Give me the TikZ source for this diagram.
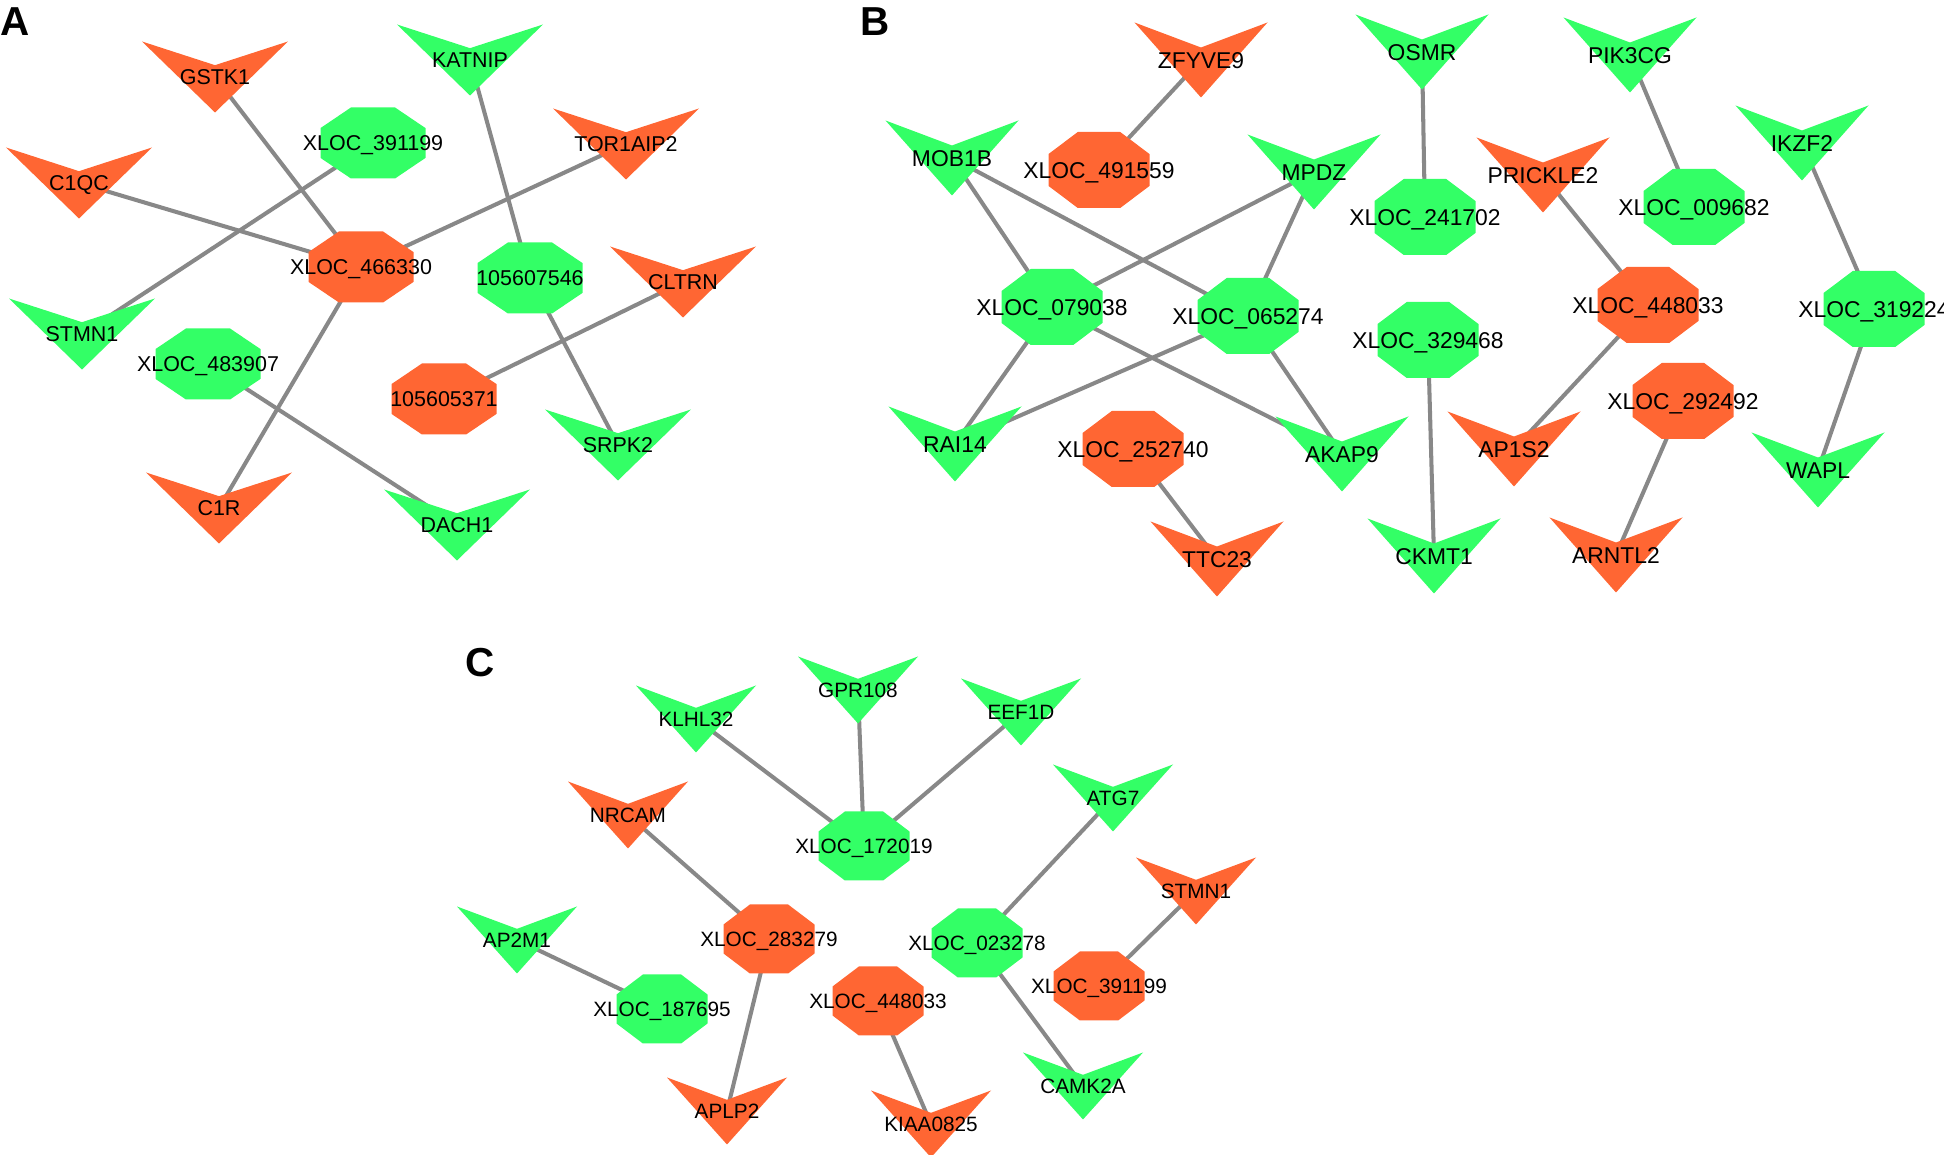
\documentclass[tikz,border=0pt]{standalone}
\usepackage{fontspec}
\setmainfont{Liberation Sans}
\usetikzlibrary{backgrounds}
\definecolor{upcol}{HTML}{FF6633}
\definecolor{downcol}{HTML}{33FF66}
\definecolor{edgecol}{HTML}{888888}

\tikzset{
  upreg/.style={fill=upcol},
  downreg/.style={fill=downcol},
  gene/.style={inner sep=0pt, text depth=0pt},
  link/.style={draw=edgecol, line width=1.15pt},
  panel/.style={anchor=base west, inner sep=0pt, font=\bfseries\fontsize{11.5}{12}\selectfont}
}

% V shaped node: style, name, position, label
\newcommand{\veenode}[4]{%
  \fill[#1, shift={(#3)}] (-\vw/2,-\vh/2) -- (0,-\vh/6) -- (\vw/2,-\vh/2) -- (0,\vh/2) -- cycle;
  \node[gene] (#2) at (#3) {#4};
}
% octagon node: style, name, position, label
\newcommand{\octnode}[4]{%
  \fill[#1, shift={(#3)}] (-.21*\ow,-\oh/2) -- (.21*\ow,-\oh/2) -- (\ow/2,-.21*\oh) -- (\ow/2,.21*\oh)
    -- (.21*\ow,\oh/2) -- (-.21*\ow,\oh/2) -- (-\ow/2,.21*\oh) -- (-\ow/2,-.21*\oh) -- cycle;
  \node[gene] (#2) at (#3) {#4};
}

\begin{document}
\begin{tikzpicture}[x=0.01cm, y=-0.01cm]
\useasboundingbox (0,0) rectangle (1944,1155);

% panel A
\begin{scope}[gene/.append style={font=\fontsize{6.1}{7}\selectfont, text height=4.4pt}]
  \def\vw{146}\def\vh{71}\def\ow{105}\def\oh{71}
  \node[panel] (labA) at (0,36) {A};
  \veenode{upreg}{gstk1}{215,77}{GSTK1}
  \veenode{downreg}{katnip}{470,60}{KATNIP}
  \octnode{downreg}{xA391199}{373,143}{XLOC\_391199}
  \veenode{upreg}{tor1aip2}{626,144}{TOR1AIP2}
  \veenode{upreg}{c1qc}{79,183}{C1QC}
  \octnode{upreg}{xA466330}{361,267}{XLOC\_466330}
  \octnode{downreg}{n105607546}{530,278}{105607546}
  \veenode{upreg}{cltrn}{683,282}{CLTRN}
  \veenode{downreg}{stmn1}{82,334}{STMN1}
  \octnode{downreg}{xA483907}{208,364}{XLOC\_483907}
  \octnode{upreg}{n105605371}{444,399}{105605371}
  \veenode{downreg}{srpk2}{618,445}{SRPK2}
  \veenode{upreg}{c1r}{219,508}{C1R}
  \veenode{downreg}{dach1}{457,525}{DACH1}
\end{scope}

% panel B
\begin{scope}[gene/.append style={font=\fontsize{6.5}{7}\selectfont, text height=4.7pt}]
  \def\vw{133}\def\vh{75}\def\ow{101}\def\oh{76}
  \node[panel] (labB) at (860,36) {B};
  \veenode{upreg}{zfyve9}{1201,60}{ZFYVE9}
  \veenode{downreg}{osmr}{1422,52}{OSMR}
  \veenode{downreg}{pik3cg}{1630,55}{PIK3CG}
  \veenode{downreg}{mob1b}{952,158}{MOB1B}
  \octnode{upreg}{xB491559}{1099,170}{XLOC\_491559}
  \veenode{downreg}{mpdz}{1314,172}{MPDZ}
  \veenode{upreg}{prickle2}{1543,175}{PRICKLE2}
  \veenode{downreg}{ikzf2}{1802,143}{IKZF2}
  \octnode{downreg}{xB241702}{1425,217}{XLOC\_241702}
  \octnode{downreg}{xB009682}{1694,207}{XLOC\_009682}
  \octnode{downreg}{xB079038}{1052,307}{XLOC\_079038}
  \octnode{downreg}{xB065274}{1248,316}{XLOC\_065274}
  \octnode{downreg}{xB329468}{1428,340}{XLOC\_329468}
  \octnode{upreg}{xB448033}{1648,305}{XLOC\_448033}
  \octnode{downreg}{xB319224}{1874,309}{XLOC\_319224}
  \octnode{upreg}{xB292492}{1683,401}{XLOC\_292492}
  \veenode{downreg}{rai14}{955,444}{RAI14}
  \octnode{upreg}{xB252740}{1133,449}{XLOC\_252740}
  \veenode{downreg}{akap9}{1342,454}{AKAP9}
  \veenode{upreg}{ap1s2}{1514,449}{AP1S2}
  \veenode{downreg}{wapl}{1818,470}{WAPL}
  \veenode{upreg}{ttc23}{1217,559}{TTC23}
  \veenode{downreg}{ckmt1}{1434,556}{CKMT1}
  \veenode{upreg}{arntl2}{1616,555}{ARNTL2}
\end{scope}

% panel C
\begin{scope}[gene/.append style={font=\fontsize{5.9}{7}\selectfont, text height=4.25pt}]
  \def\vw{120}\def\vh{67}\def\ow{91}\def\oh{69}
  \node[panel] (labC) at (465,677) {C};
  \veenode{downreg}{gpr108}{858,690}{GPR108}
  \veenode{downreg}{klhl32}{696,719}{KLHL32}
  \veenode{downreg}{eef1d}{1021,712}{EEF1D}
  \veenode{upreg}{nrcam}{628,815}{NRCAM}
  \octnode{downreg}{xC172019}{864,846}{XLOC\_172019}
  \veenode{downreg}{atg7}{1113,798}{ATG7}
  \veenode{upreg}{stmn1c}{1196,891}{STMN1}
  \veenode{downreg}{ap2m1}{517,940}{AP2M1}
  \octnode{upreg}{xC283279}{769,939}{XLOC\_283279}
  \octnode{downreg}{xC023278}{977,943}{XLOC\_023278}
  \octnode{upreg}{xC391199}{1099,986}{XLOC\_391199}
  \octnode{downreg}{xC187695}{662,1009}{XLOC\_187695}
  \octnode{upreg}{xC448033}{878,1001}{XLOC\_448033}
  \veenode{upreg}{aplp2}{727,1111}{APLP2}
  \veenode{upreg}{kiaa0825}{931,1124}{KIAA0825}
  \veenode{downreg}{camk2a}{1083,1086}{CAMK2A}
\end{scope}

\begin{scope}[on background layer]
  \foreach \a/\b in {gstk1/xA466330, c1qc/xA466330, tor1aip2/xA466330, c1r/xA466330,
      xA391199/stmn1, katnip/n105607546, n105607546/srpk2, cltrn/n105605371, xA483907/dach1,
      zfyve9/xB491559, osmr/xB241702, pik3cg/xB009682, mob1b/xB079038, mob1b/xB065274,
      mpdz/xB079038, mpdz/xB065274, xB079038/rai14, xB079038/akap9, xB065274/rai14,
      xB065274/akap9, prickle2/xB448033, xB448033/ap1s2, ikzf2/xB319224, xB319224/wapl,
      xB292492/arntl2, xB252740/ttc23, xB329468/ckmt1,
      klhl32/xC172019, gpr108/xC172019, eef1d/xC172019, nrcam/xC283279, xC283279/aplp2,
      atg7/xC023278, xC023278/camk2a, stmn1c/xC391199, ap2m1/xC187695, xC448033/kiaa0825}
    \draw[link] (\a.center) -- (\b.center);
\end{scope}
\end{tikzpicture}
\end{document}
